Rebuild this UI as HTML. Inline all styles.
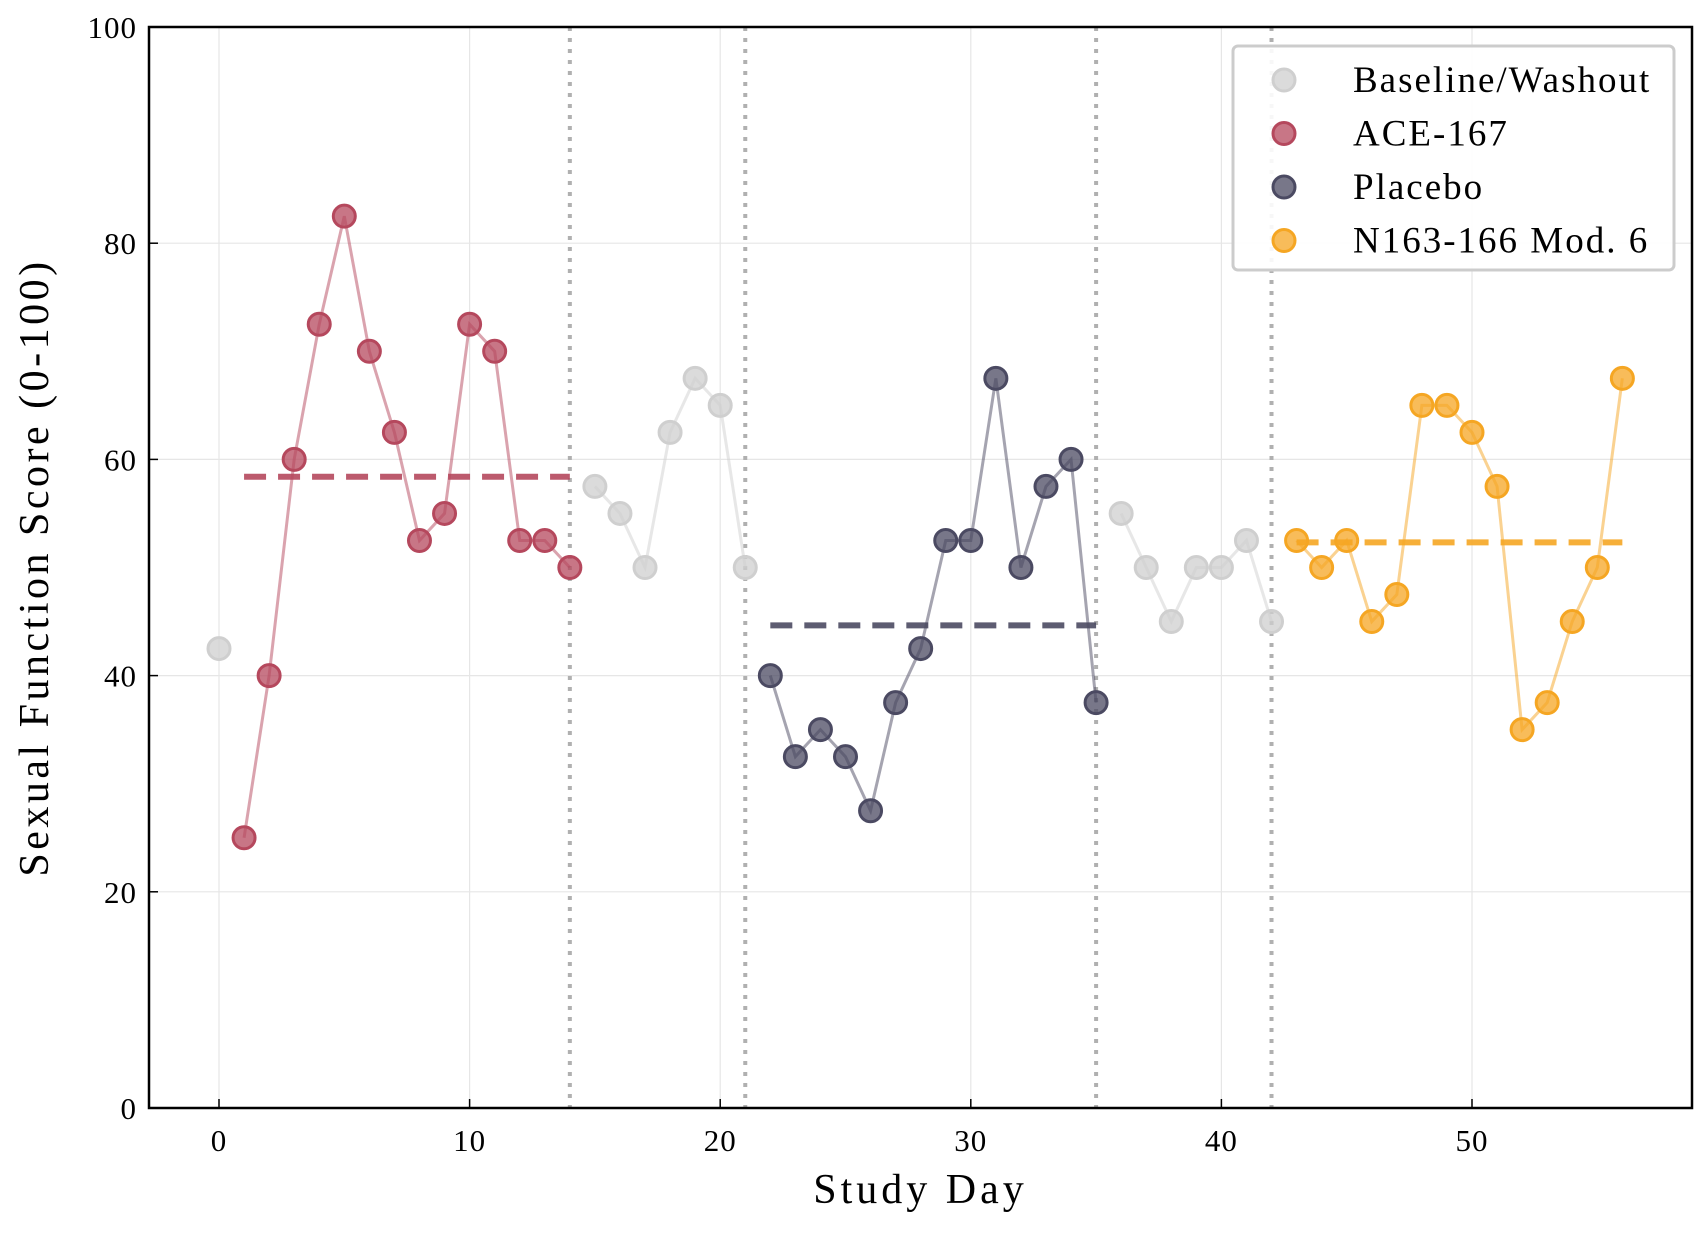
<!DOCTYPE html>
<html><head><meta charset="utf-8"><style>
body{margin:0;background:#fff}
svg text{font-family:"Liberation Serif",serif;fill:#000}
</style></head><body>
<svg id="chart" width="1708" height="1228" xmlns="http://www.w3.org/2000/svg">
<g id="grid"></g><g id="series"></g><g id="axes"></g>
</svg>
<script>
const baseDays=[0,15,16,17,18,19,20,21,36,37,38,39,40,41,42];
const baseVals=[42.5,57.5,55,50,62.5,67.5,65,50,55,50,45,50,50,52.5,45];
const aceDays=[1,2,3,4,5,6,7,8,9,10,11,12,13,14];
const aceVals=[25,40,60,72.5,82.5,70,62.5,52.5,55,72.5,70,52.5,52.5,50];
const plaDays=[22,23,24,25,26,27,28,29,30,31,32,33,34,35];
const plaVals=[40,32.5,35,32.5,27.5,37.5,42.5,52.5,52.5,67.5,50,57.5,60,37.5];
const nDays=[43,44,45,46,47,48,49,50,51,52,53,54,55,56];
const nVals=[52.5,50,52.5,45,47.5,65,65,62.5,57.5,35,37.5,45,50,67.5];
const phaseBounds=[14,21,35,42];
const xTicks=[0,10,20,30,40,50];
const yTicks=[0,20,40,60,80,100];
const legendLabels=["Baseline/Washout","ACE-167","Placebo","N163-166 Mod. 6"];

const L=149,R=1692,T=27,B=1108;
const X=d=>219+(1472-219)*d/50;
const Y=v=>B-(B-T)*v/100;
const NS="http://www.w3.org/2000/svg";
function mk(parent,tag,attrs){const e=document.createElementNS(NS,tag);for(const k in attrs)e.setAttribute(k,attrs[k]);parent.appendChild(e);return e;}
const grid=document.getElementById('grid'),ser=document.getElementById('series'),ax=document.getElementById('axes');

xTicks.forEach(t=>{const l=mk(grid,'line',{x1:X(t),x2:X(t),y1:T,y2:B,stroke:'#e6e6e6','stroke-width':1.2});
});
yTicks.forEach(t=>{const l=mk(grid,'line',{x1:L,x2:R,y1:Y(t),y2:Y(t),stroke:'#e6e6e6','stroke-width':1.2});
});
phaseBounds.forEach(b=>{const l=mk(grid,'line',{x1:X(b),x2:X(b),y1:T,y2:B,stroke:'#b0b0b0','stroke-width':4,'stroke-dasharray':'4 7'});
});

function segs(days,vals){const out=[];let cur=[];days.forEach((d,i)=>{if(cur.length&&d-cur[cur.length-1][0]>1){out.push(cur);cur=[];}cur.push([d,vals[i]]);});out.push(cur);return out;}
function series(days,vals,color,name,mean){
  segs(days,vals).forEach(s=>{const p=mk(ser,'polyline',{points:s.map(q=>X(q[0])+','+Y(q[1])).join(' '),fill:'none',stroke:color,'stroke-opacity':0.5,'stroke-width':3});
  });
  if(mean){const m=vals.reduce((a,b)=>a+b,0)/vals.length;
    const l=mk(ser,'line',{x1:X(days[0]),x2:X(days[days.length-1]),y1:Y(m),y2:Y(m),stroke:color,'stroke-width':6,'stroke-dasharray':'22 12','stroke-opacity':0.9});
    }
  days.forEach((d,i)=>{const c=mk(ser,'circle',{cx:X(d),cy:Y(vals[i]),r:11,fill:color,'fill-opacity':0.75,stroke:color,'stroke-width':3});
  });
}
const cols=['#cfcfcf','#b5485d','#4b4a62','#f5a623'];
series(baseDays,baseVals,cols[0],'baseline',false);
series(aceDays,aceVals,cols[1],'ace-167',true);
series(plaDays,plaVals,cols[2],'placebo',true);
series(nDays,nVals,cols[3],'n163-166',true);

const frame=mk(ax,'rect',{x:L,y:T,width:R-L,height:B-T,fill:'none',stroke:'#000','stroke-width':2.5});

xTicks.forEach(t=>{mk(ax,'line',{x1:X(t),x2:X(t),y1:B,y2:B-9,stroke:'#000','stroke-width':1.5});
const tx=mk(ax,'text',{x:X(t),y:B+43,'text-anchor':'middle','font-size':31,'letter-spacing':1});tx.textContent=t;
});
yTicks.forEach(t=>{mk(ax,'line',{x1:L,x2:L+9,y1:Y(t),y2:Y(t),stroke:'#000','stroke-width':1.5});
const tx=mk(ax,'text',{x:L-12,y:Y(t)+11,'text-anchor':'end','font-size':31,'letter-spacing':1});tx.textContent=t;
});
const xl=mk(ax,'text',{x:(L+R)/2,y:1203,'text-anchor':'middle','font-size':42,'letter-spacing':4});xl.textContent='Study Day';

const yl=mk(ax,'text',{x:0,y:0,'text-anchor':'middle','font-size':42,'letter-spacing':3.5,transform:`translate(48,${(T+B)/2}) rotate(-90)`});yl.textContent='Sexual Function Score (0-100)';


const lg=mk(ax,'g',{});

mk(lg,'rect',{x:1233,y:46,width:441,height:224,rx:5,fill:'#fff','fill-opacity':0.9,stroke:'#cccccc','stroke-width':3});
legendLabels.forEach((s,i)=>{const y=80+i*53.5;
const c=mk(lg,'circle',{cx:1284,cy:y,r:11,fill:cols[i],'fill-opacity':0.75,stroke:cols[i],'stroke-width':3});

const t=mk(lg,'text',{x:1353,y:y+12,'font-size':37,'letter-spacing':2});t.textContent=s;
});
</script>
</body></html>
